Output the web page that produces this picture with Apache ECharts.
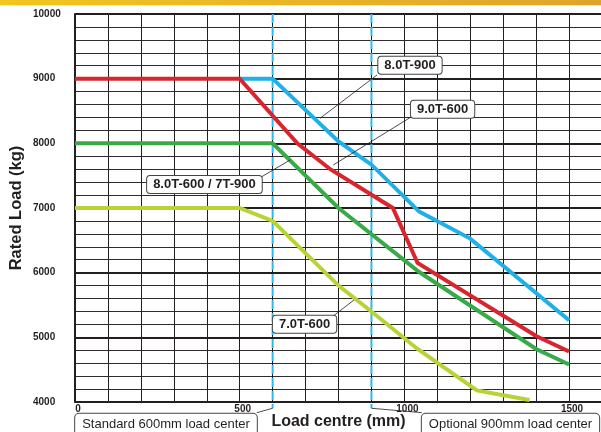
<!DOCTYPE html>
<html><head><meta charset="utf-8">
<script src="https://cdn.jsdelivr.net/npm/echarts@6/dist/echarts.min.js"></script>
<style>html,body{margin:0;padding:0;background:#fff}#c{width:601px;height:432px}</style>
</head><body><div id="c"></div>
<script>
// ---- data ----
const xTickLabels = [0, 500, 1000, 1500];
const red_x = [0, 500, 675, 775, 965, 1040, 1400, 1500];
const red_y = [9000, 9000, 8000, 7600, 7000, 6150, 5020, 4780];
const blue_x = [500, 600, 800, 900, 1045, 1200, 1500];
const blue_y = [9000, 9000, 8030, 7670, 6945, 6527, 5264];
const green_x = [0, 600, 800, 1045, 1400, 1500];
const green_y = [8000, 8000, 7000, 6010, 4820, 4580];
const yellow_x = [0, 500, 600, 800, 900, 1040, 1220, 1380];
const yellow_y = [7000, 7000, 6800, 5800, 5400, 4820, 4180, 4030];
const loadCentres = [600, 900];
const annoText = ['8.0T-900', '9.0T-600', '8.0T-600 / 7T-900', '7.0T-600'];
const bottomText = ['Standard 600mm load center', 'Optional 900mm load center'];

// ---- annotation placement (data units) ----
const annoBox = [[1017, 9206], [1116, 8528], [393, 7363], [697, 5203]];
const annoFrom = [[917, 9057], [1019, 8403], [567, 7484], [784, 5330]];
const annoTo = [[744, 8387], [784, 7665], [653, 7742], [847, 5577]];
const dashBottom = 3903;
const bottomCorner = [[552, 3835], [1053, 3835]];

const zip = (a, b) => a.map((v, i) => [v, b[i]]);
const FONT = '"Liberation Sans", Arial, Helvetica, sans-serif';
const INK = '#231f20';

const chart = echarts.init(document.getElementById('c'), null, {renderer: 'canvas'});
const mkSeries = (name, d, color) => ({
  name, type: 'line', data: d, symbol: 'none', animation: false,
  lineStyle: {color, width: 4, join: 'miter'}, z: 3
});
chart.setOption({
  animation: false,
  backgroundColor: '#fff',
  grid: {left: 75, top: 14, width: 527, height: 388, containLabel: false, outerBoundsMode: 'none'},
  xAxis: {
    type: 'value', min: 0, max: 1600, interval: 100,
    axisLine: {show: false}, axisTick: {show: false},
    splitLine: {show: true, lineStyle: {color: INK, width: 1}},
    axisLabel: {
      formatter: v => xTickLabels.includes(v) ? String(v) : '',
      fontFamily: FONT, fontSize: 10, fontWeight: 'bold', color: INK, margin: 2,
      padding: [0, 0, 0, 6], hideOverlap: false
    },
    name: 'Load centre (mm)', nameLocation: 'middle', nameGap: 12, nameMoveOverlap: false,
    nameTextStyle: {fontFamily: FONT, fontSize: 16, fontWeight: 'bold', color: INK}
  },
  yAxis: {
    type: 'value', min: 4000, max: 10000, interval: 1000,
    axisLine: {show: true, lineStyle: {color: INK, width: 2}}, axisTick: {show: false},
    splitLine: {show: true, lineStyle: {color: INK, width: 2}},
    minorTick: {show: false, splitNumber: 5},
    minorSplitLine: {show: true, lineStyle: {color: '#2f2b2c', width: 1}},
    axisLabel: {formatter: v => String(v), align: 'left', margin: 42, fontFamily: FONT, fontSize: 10, fontWeight: 'bold', color: INK},
    name: 'Rated Load (kg)', nameLocation: 'middle', nameGap: 50, nameRotate: 90, nameMoveOverlap: false,
    nameTextStyle: {fontFamily: FONT, fontSize: 16.5, fontWeight: 'bold', color: INK}
  },
  series: [
    mkSeries('8.0T-900', zip(blue_x, blue_y), '#1fb0e8'),
    mkSeries('9.0T-600', zip(red_x, red_y), '#d9262e'),
    mkSeries('8.0T-600 / 7T-900', zip(green_x, green_y), '#3aaa49'),
    mkSeries('7.0T-600', zip(yellow_x, yellow_y), '#b7d335')
  ]
});

const px = p => chart.convertToPixel({gridIndex: 0}, p);
const g = [];
g.push({type: 'rect', shape: {x: 0, y: 0, width: 601, height: 5}, z: 20,
  style: {fill: new echarts.graphic.LinearGradient(0, 0, 1, 0, [{offset: 0, color: '#f3c51f'}, {offset: 1, color: '#dfa42b'}])}});
g.push({type: 'rect', shape: {x: 0, y: 5, width: 601, height: 1}, z: 20, style: {fill: '#f6ebc6'}});

loadCentres.forEach((xv, i) => {
  const a = px([xv, 10000]), b = px([xv, dashBottom]);
  g.push({type: 'line', z: 2, shape: {x1: a[0], y1: a[1], x2: b[0], y2: b[1]},
    style: {stroke: '#33b8ec', lineWidth: 2, lineDash: [9, 4]}});
  const c = px(bottomCorner[i]);
  g.push({type: 'line', z: 10, shape: {x1: b[0], y1: b[1], x2: c[0], y2: c[1]},
    style: {stroke: INK, lineWidth: 0.8}});
  g.push({type: 'text', z: 11, x: c[0], y: c[1] + 1,
    style: {text: bottomText[i], font: '13px ' + FONT, fill: INK,
      align: i === 0 ? 'right' : 'left', textAlign: i === 0 ? 'right' : 'left',
      verticalAlign: 'top', textVerticalAlign: 'top',
      backgroundColor: '#fff', borderColor: '#444', borderWidth: 1, borderRadius: 4,
      padding: [3, 7], lineHeight: 15}});
});

annoText.forEach((t, i) => {
  const f = px(annoFrom[i]), to = px(annoTo[i]), b = px(annoBox[i]);
  g.push({type: 'line', z: 10, shape: {x1: f[0], y1: f[1], x2: to[0], y2: to[1]},
    style: {stroke: INK, lineWidth: 0.8}});
  g.push({type: 'text', z: 11, x: b[0], y: b[1],
    style: {text: t, font: 'bold 13px ' + FONT, fill: INK,
      align: 'center', textAlign: 'center', verticalAlign: 'middle', textVerticalAlign: 'middle',
      backgroundColor: '#fff', borderColor: '#444', borderWidth: 1, borderRadius: 3,
      padding: [2, 6], lineHeight: 13}});
});
chart.setOption({graphic: g});
</script>
</body></html>
